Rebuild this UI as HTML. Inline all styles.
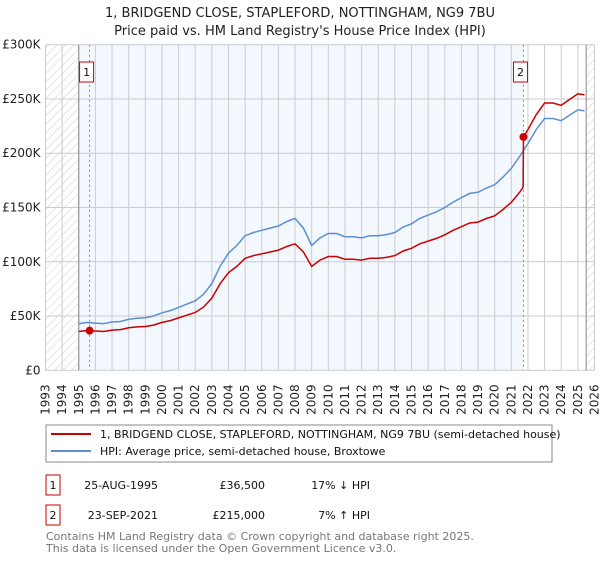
<!DOCTYPE html>
<html><head><meta charset="utf-8"><style>
body{margin:0;background:#fff;width:600px;height:560px;overflow:hidden;font-family:"DejaVu Sans","Liberation Sans",sans-serif;}
svg text{font-family:"DejaVu Sans","Liberation Sans",sans-serif;}
</style></head><body>
<svg id="chart" width="600" height="560">
<defs><pattern id="hatch" width="6" height="6" patternUnits="userSpaceOnUse" patternTransform="rotate(45)"><line x1="0" y1="0" x2="0" y2="6" stroke="#ccc" stroke-width="1"/></pattern></defs>
<text x="300" y="17" text-anchor="middle" font-size="13" fill="#222">1, BRIDGEND CLOSE, STAPLEFORD, NOTTINGHAM, NG9 7BU</text>
<text x="300" y="35" text-anchor="middle" font-size="13" fill="#222">Price paid vs. HM Land Registry's House Price Index (HPI)</text>
<g id="plot"></g>
<g id="legend">
<rect x="46" y="425" width="506" height="37" fill="#fff" stroke="#888"/>
<line x1="51" y1="434" x2="91" y2="434" stroke="#cc0000" stroke-width="2"/>
<text x="100" y="438" font-size="11" fill="#111">1, BRIDGEND CLOSE, STAPLEFORD, NOTTINGHAM, NG9 7BU (semi-detached house)</text>
<line x1="51" y1="451" x2="91" y2="451" stroke="#5b8fd0" stroke-width="2"/>
<text x="100" y="455" font-size="11" fill="#111">HPI: Average price, semi-detached house, Broxtowe</text>
</g>
<g font-size="11" fill="#111">
<rect x="46" y="475" width="14" height="20" fill="#fff" stroke="#cc0000"/>
<text x="53" y="489" text-anchor="middle">1</text>
<text x="158" y="489" text-anchor="end">25-AUG-1995</text>
<text x="265" y="489" text-anchor="end">£36,500</text>
<text x="370" y="489" text-anchor="end">17% ↓ HPI</text>
<rect x="46" y="505" width="14" height="20" fill="#fff" stroke="#cc0000"/>
<text x="53" y="519" text-anchor="middle">2</text>
<text x="158" y="519" text-anchor="end">23-SEP-2021</text>
<text x="265" y="519" text-anchor="end">£215,000</text>
<text x="370" y="519" text-anchor="end">7% ↑ HPI</text>
</g>
<text x="46" y="540" font-size="11" fill="#777">Contains HM Land Registry data © Crown copyright and database right 2025.</text>
<text x="46" y="552" font-size="11" fill="#777">This data is licensed under the Open Government Licence v3.0.</text>
</svg>
<script>
const hpiYears=[1995,1995.5,1996,1996.5,1997,1997.5,1998,1998.5,1999,1999.5,2000,2000.5,2001,2001.5,2002,2002.5,2003,2003.5,2004,2004.5,2005,2005.5,2006,2006.5,2007,2007.5,2008,2008.5,2009,2009.5,2010,2010.5,2011,2011.5,2012,2012.5,2013,2013.5,2014,2014.5,2015,2015.5,2016,2016.5,2017,2017.5,2018,2018.5,2019,2019.5,2020,2020.5,2021,2021.5,2022,2022.5,2023,2023.5,2024,2024.5,2025,2025.4];
const hpiValues=[43,44,43.5,43,44.5,45,47,48,48.5,50,53,55,58,61,64,70,80,96,108,115,124,127,129,131,133,137,140,131,115,122,126,126,123,123,122,124,124,125,127,132,135,140,143,146,150,155,159,163,164,168,171,178,186,197,209,222,232,232,230,235,240,239];
const saleYears=[1995.65,2021.73];
const salePrices=[36.5,215];
const yTicks=[0,50,100,150,200,250,300];
const yTickLabels=["£0","£50K","£100K","£150K","£200K","£250K","£300K"];
const xTicks=[1993,1994,1995,1996,1997,1998,1999,2000,2001,2002,2003,2004,2005,2006,2007,2008,2009,2010,2011,2012,2013,2014,2015,2016,2017,2018,2019,2020,2021,2022,2023,2024,2025,2026];

const X0=45.5,X1=594.5,Y0=370.3,Y1=44.7;
const xs=y=>X0+(y-1993)/(2026-1993)*(X1-X0);
const ys=v=>Y0-v/300*(Y0-Y1);
const NS="http://www.w3.org/2000/svg";
const g=document.getElementById('plot');
function mk(t,a){const e=document.createElementNS(NS,t);for(const k in a)e.setAttribute(k,a[k]);g.appendChild(e);return e;}
function hpiAt(y){for(let i=0;i<hpiYears.length-1;i++){if(y<=hpiYears[i+1]){const f=(y-hpiYears[i])/(hpiYears[i+1]-hpiYears[i]);return hpiValues[i]+f*(hpiValues[i+1]-hpiValues[i]);}}return hpiValues[hpiValues.length-1];}

let e=mk('rect',{x:X0,y:Y1,width:X1-X0,height:Y0-Y1,fill:'#fff'});

e=mk('rect',{x:xs(1995),y:Y1,width:xs(saleYears[1])-xs(1995),height:Y0-Y1,fill:'#f3f7fe'});

e=mk('rect',{x:X0,y:Y1,width:xs(1995)-X0,height:Y0-Y1,fill:'url(#hatch)'});

e=mk('rect',{x:xs(2025.5),y:Y1,width:X1-xs(2025.5),height:Y0-Y1,fill:'url(#hatch)'});


xTicks.forEach((t,i)=>{
  const l=mk('line',{x1:xs(t),x2:xs(t),y1:Y1,y2:Y0,stroke:'#ccc','stroke-width':1});
  
  const x=xs(t)+4,y=Y0+14;
  const tx=mk('text',{x:x,y:y,transform:`rotate(-90 ${x} ${y})`,'text-anchor':'end','font-size':12,fill:'#222'});
  tx.textContent=String(t);
  
});
yTicks.forEach((t,i)=>{
  const l=mk('line',{x1:X0,x2:X1,y1:ys(t),y2:ys(t),stroke:'#ccc','stroke-width':1});
  
  const tx=mk('text',{x:X0-5,y:ys(t)+4,'text-anchor':'end','font-size':12,fill:'#222'});
  tx.textContent=yTickLabels[i];
  
});
[xs(1995),xs(2025.5)].forEach(x=>{
  const l=mk('line',{x1:x,x2:x,y1:Y1,y2:Y0,stroke:'#888','stroke-width':1});
  
});
saleYears.forEach((s,i)=>{
  const l=mk('line',{x1:xs(s),x2:xs(s),y1:Y1,y2:Y0,stroke:'#f06060','stroke-width':1,'stroke-dasharray':'2,3'});
  
  const cx=xs(s)-3,by=62;
  const r=mk('rect',{x:cx-7,y:by,width:14,height:20,fill:'#fff',stroke:'#cc0000'});
  
  const t=mk('text',{x:cx,y:by+14,'text-anchor':'middle','font-size':11,fill:'#111'});
  t.textContent=String(i+1);
  
});
const hp=hpiYears.map((y,i)=>`${i?'L':'M'}${xs(y).toFixed(1)},${ys(hpiValues[i]).toFixed(1)}`).join('');
e=mk('path',{d:hp,fill:'none',stroke:'#5b8fd0','stroke-width':1.5});

const r1=salePrices[0]/hpiAt(saleYears[0]),r2=salePrices[1]/hpiAt(saleYears[1]);
let pts=[];
hpiYears.forEach((y,i)=>{if(y<saleYears[1])pts.push([y,hpiValues[i]*r1]);});
pts.push([saleYears[1]-0.02,hpiAt(saleYears[1])*r1]);
pts.push([saleYears[1],salePrices[1]]);
hpiYears.forEach((y,i)=>{if(y>saleYears[1])pts.push([y,hpiValues[i]*r2]);});
const pp=pts.map((p,i)=>`${i?'L':'M'}${xs(p[0]).toFixed(1)},${ys(p[1]).toFixed(1)}`).join('');
e=mk('path',{d:pp,fill:'none',stroke:'#cc0000','stroke-width':1.5});

saleYears.forEach((s,i)=>{
  const c=mk('circle',{cx:xs(s),cy:ys(salePrices[i]),r:4,fill:'#cc0000'});
  
});
</script>
</body></html>
